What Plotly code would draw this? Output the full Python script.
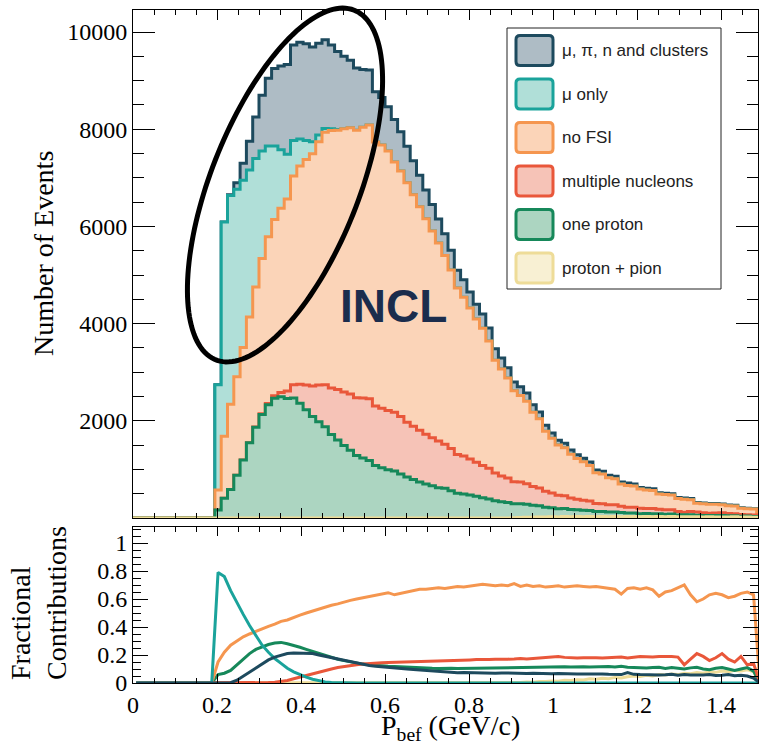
import numpy as np
import plotly.graph_objects as go

# ---------------- data ----------------
BIN_LO, BIN_HI, N_BINS = 0.0, 1.5, 100

SERIES_NAMES = ["μ, π, n and clusters", "μ only", "no FSI",
                "multiple nucleons", "one proton", "proton + pion"]

# total number of events per bin (top of the stack)
TOTAL = [
    0, 0, 0, 0, 0, 0, 0, 0, 0, 0,
    0, 0, 0, 2740, 6090, 6650, 6900, 7300, 7750, 8250,
    8700, 9050, 9250, 9300, 9330, 9730, 9790, 9760, 9690, 9770,
    9840, 9730, 9600, 9500, 9420, 9260, 9230, 9220, 8770, 8650,
    8460, 8200, 7950, 7650, 7350, 7050, 6750, 6450, 6150, 5850,
    5510, 5100, 4900, 4650, 4400, 4200, 3910, 3480, 3290, 3090,
    2800, 2700, 2570, 2330, 2180, 1910, 1750, 1600, 1540, 1400,
    1300, 1230, 1150, 990, 960, 880, 860, 740, 720, 700,
    630, 610, 600, 520, 510, 500, 420, 410, 400, 320,
    310, 300, 300, 290, 270, 260, 210, 200, 190, 0,
]

# fractional contributions per bin (lower panel)
FRAC_OTHER = [  # mu, pi, n and clusters
    0, 0, 0, 0, 0, 0, 0, 0, 0, 0,
    0, 0, 0, 0, 0, .002, .02, .05, .08, .11,
    .14, .165, .185, .20, .21, .215, .215, .215, .21, .20,
    .19, .18, .17, .16, .15, .14, .13, .125, .12, .115,
    .11, .107, .103, .10, .097, .094, .09, .086, .082, .078,
    .076, .074, .075, .073, .072, .074, .071, .07, .072, .07,
    .069, .07, .068, .069, .067, .068, .066, .067, .065, .066,
    .064, .065, .066, .063, .064, .062, .063, .06, .075, .062,
    .06, .058, .06, .057, .059, .062, .055, .06, .058, .055,
    .057, .06, .054, .056, .06, .052, .055, .05, .035, 0,
]
FRAC_MU = [
    0, 0, 0, 0, 0, 0, 0, 0, 0, 0,
    0, 0, 0, .79, .76, .66, .57, .49, .41, .34,
    .27, .22, .175, .14, .105, .08, .06, .042, .027, .015,
    .008, .004, .002, 0, 0, 0, 0, 0, 0, 0,
    0, 0, 0, 0, 0, 0, 0, 0, 0, 0,
    0, 0, 0, 0, 0, 0, 0, 0, 0, 0,
    0, 0, 0, 0, 0, 0, 0, 0, 0, 0,
    0, 0, 0, 0, 0, 0, 0, 0, 0, 0,
    0, 0, 0, 0, 0, 0, 0, 0, 0, 0,
    0, 0, 0, 0, 0, 0, 0, 0, 0, 0,
]
FRAC_NOFSI = [
    0, 0, 0, 0, 0, 0, 0, 0, 0, 0,
    0, 0, 0, .15, .22, .27, .30, .33, .35, .37,
    .39, .405, .42, .44, .45, .47, .485, .50, .515, .53,
    .54, .555, .565, .58, .59, .60, .61, .62, .63, .64,
    .645, .63, .64, .655, .66, .67, .67, .675, .68, .675,
    .685, .69, .685, .69, .70, .705, .70, .695, .70, .695,
    .71, .69, .70, .69, .695, .685, .69, .695, .685, .69,
    .695, .69, .685, .69, .685, .68, .67, .635, .675, .68,
    .67, .68, .665, .62, .65, .66, .68, .70, .63, .58,
    .60, .63, .64, .63, .61, .62, .64, .65, .63, 0,
]
FRAC_MULTI = [
    0, 0, 0, 0, 0, 0, 0, 0, 0, 0,
    0, 0, 0, 0, 0, 0, 0, 0, 0, .001,
    .002, .003, .006, .01, .018, .03, .042, .055, .068, .08,
    .09, .10, .11, .118, .125, .13, .135, .14, .142, .145,
    .147, .148, .15, .15, .152, .155, .155, .157, .16, .158,
    .162, .16, .163, .165, .167, .165, .168, .17, .168, .17,
    .172, .175, .172, .175, .178, .18, .185, .19, .183, .18,
    .178, .18, .182, .18, .178, .18, .182, .185, .178, .185,
    .19, .188, .185, .19, .192, .19, .185, .13, .17, .21,
    .19, .16, .18, .21, .17, .15, .19, .13, .14, 0,
]
FRAC_1P = [
    0, 0, 0, 0, 0, 0, 0, 0, 0, 0,
    0, 0, 0, .06, .07, .09, .13, .17, .21, .24,
    .26, .275, .285, .29, .28, .27, .255, .24, .225, .21,
    .195, .18, .17, .16, .15, .14, .135, .13, .125, .122,
    .12, .118, .115, .112, .11, .108, .106, .105, .104, .106,
    .105, .103, .104, .105, .106, .104, .105, .107, .106, .108,
    .11, .109, .11, .112, .111, .113, .115, .114, .116, .115,
    .117, .116, .115, .117, .116, .118, .115, .12, .112, .11,
    .105, .108, .11, .112, .104, .11, .105, .10, .108, .112,
    .10, .095, .105, .11, .10, .09, .10, .11, .085, 0,
]
FRAC_PPI = [
    0, 0, 0, 0, 0, 0, 0, 0, 0, 0,
    0, 0, 0, 0, 0, 0, 0, 0, 0, 0,
    0, 0, 0, 0, 0, 0, 0, 0, 0, 0,
    0, 0, 0, 0, 0, 0, 0, 0, 0, 0,
    0, 0, 0, 0, 0, 0, 0, 0, 0, 0,
    0, 0, 0, 0, 0, 0, 0, 0, 0, 0,
    .002, .004, .007, .006, .011, .01, .015, .013, .02, .018,
    .024, .022, .03, .027, .034, .031, .04, .036, .045, .05,
    .047, .055, .05, .06, .057, .065, .06, .07, .066, .075,
    .07, .08, .076, .085, .08, .09, .085, .095, .08, 0,
]

# ---------------- styling ----------------
LINE_COLORS = ["#1d4a5e", "#1aa39b", "#f5964f", "#e9573a", "#16885a", "#eedc98"]
FILL_COLORS = ["#aebcc5", "#b0dfd8", "#fbd4b8", "#f6c3b7", "#acd5c1", "#f8f0d3"]

W, H = 759, 747
PX_L, PX_R, PX_T, PX_B = 133, 758, 10, 683
TOP_Y0_PX, BOT_Y1_PX = 518, 527
XMAX = BIN_LO + (PX_R - PX_L) / 420.0
SERIF = "Liberation Serif"
SANS = "Liberation Sans"


def pp(px, py):
    return (px - PX_L) / (PX_R - PX_L), (PX_B - py) / (PX_B - PX_T)


edges = np.linspace(BIN_LO, BIN_HI, N_BINS + 1)
centers = 0.5 * (edges[:-1] + edges[1:])

total = np.array(TOTAL, float)
fr = [np.array(a, float) for a in (FRAC_OTHER, FRAC_MU, FRAC_NOFSI, FRAC_MULTI, FRAC_1P, FRAC_PPI)]
fsum = sum(fr)
safe = np.where(fsum > 0, fsum, 1.0)
comps = [total * f / safe for f in fr]          # counts per component
# stack bottom -> top: proton+pion, one proton, multiple nucleons, no FSI, mu only, others
order_bottom_up = [5, 4, 3, 2, 1, 0]
cum = {}
running = np.zeros(N_BINS)
for k in order_bottom_up:
    running = running + comps[k]
    cum[k] = running.copy()

fig = go.Figure()

xs_step = np.append(edges[:-1], edges[-1])
for k in [0, 1, 2, 3, 4, 5]:  # draw top of stack first
    ys = np.append(cum[k], cum[k][-1])
    fig.add_trace(go.Scatter(
        x=xs_step, y=ys, mode="lines", line=dict(color=LINE_COLORS[k], width=3, shape="hv"),
        fill="tozeroy", fillcolor=FILL_COLORS[k], xaxis="x", yaxis="y",
        showlegend=False, hoverinfo="skip"))

for k in [5, 4, 3, 2, 1, 0]:
    fig.add_trace(go.Scatter(
        x=centers, y=fr[k], mode="lines", line=dict(color=LINE_COLORS[k], width=3),
        xaxis="x2", yaxis="y2", showlegend=False, hoverinfo="skip"))

tickfont = dict(family=SERIF, size=24, color="black")
common_x = dict(range=[BIN_LO, XMAX], showgrid=False, zeroline=False, showline=True,
                linecolor="black", linewidth=1, mirror="allticks", ticks="inside",
                tickcolor="black", tick0=0, dtick=0.2)

top_dom = [pp(0, TOP_Y0_PX)[1], 1.0]
bot_dom = [0.0, pp(0, BOT_Y1_PX)[1]]
top_ymax = (TOP_Y0_PX - PX_T) / 0.0486

fig.update_layout(
    width=W, height=H,
    margin=dict(l=PX_L, r=W - PX_R, t=PX_T, b=H - PX_B),
    paper_bgcolor="white", plot_bgcolor="white",
    xaxis=dict(**common_x, domain=[0, 1], anchor="y", showticklabels=False, ticklen=10,
               minor=dict(dtick=0.05, tick0=0, ticks="inside", ticklen=5, tickcolor="black")),
    yaxis=dict(domain=top_dom, anchor="x", range=[0, top_ymax], showgrid=False, zeroline=False,
               showline=True, linecolor="black", linewidth=1, mirror="allticks",
               ticks="inside", ticklen=22, tickcolor="black", tick0=0, dtick=2000,
               tickformat="d", labelalias={"0": " "}, tickfont=tickfont,
               minor=dict(dtick=500, tick0=0, ticks="inside", ticklen=11, tickcolor="black")),
    xaxis2=dict(**common_x, domain=[0, 1], anchor="y2", ticklen=9, tickfont=tickfont,
                minor=dict(dtick=0.05, tick0=0, ticks="inside", ticklen=5, tickcolor="black")),
    yaxis2=dict(domain=bot_dom, anchor="x2", range=[0, (PX_B - BOT_Y1_PX) / 140.0],
                showgrid=False, zeroline=False, showline=True, linecolor="black", linewidth=1,
                mirror="allticks", ticks="inside", ticklen=15, tickcolor="black",
                tick0=0, dtick=0.2, tickfont=tickfont,
                minor=dict(dtick=0.05, tick0=0, ticks="inside", ticklen=8, tickcolor="black")),
)

shapes = []
annotations = []

# ellipse highlight
cx, cy, a, b, th = 285, 185, 188, 74, np.radians(21.6)
ux, uy = np.sin(th), -np.cos(th)
vx, vy = np.cos(th), np.sin(th)
pts = []
for t in np.linspace(0, 2 * np.pi, 160):
    px = cx + a * np.cos(t) * ux + b * np.sin(t) * vx
    py = cy + a * np.cos(t) * uy + b * np.sin(t) * vy
    X, Y = pp(px, py)
    pts.append(f"{X:.5f},{Y:.5f}")
shapes.append(dict(type="path", xref="paper", yref="paper", path="M " + " L ".join(pts) + " Z",
                   line=dict(color="black", width=5), layer="above"))

# legend box
x0, y0 = pp(507, 289)
x1, y1 = pp(721, 28)
shapes.append(dict(type="rect", xref="paper", yref="paper", x0=x0, y0=y0, x1=x1, y1=y1,
                   line=dict(color="#222222", width=1), fillcolor="white", layer="above"))


def rounded_rect(px0, py0, px1, py1, r):
    seq = [("M", px0 + r, py0), ("L", px1 - r, py0), ("Q", px1, py0, px1, py0 + r),
           ("L", px1, py1 - r), ("Q", px1, py1, px1 - r, py1), ("L", px0 + r, py1),
           ("Q", px0, py1, px0, py1 - r), ("L", px0, py0 + r), ("Q", px0, py0, px0 + r, py0)]
    out = []
    for item in seq:
        cmd, coords = item[0], item[1:]
        parts = []
        for i in range(0, len(coords), 2):
            X, Y = pp(coords[i], coords[i + 1])
            parts.append(f"{X:.5f},{Y:.5f}")
        out.append(cmd + " " + " ".join(parts))
    return " ".join(out) + " Z"


row_centers = [50.5, 94, 137.5, 181, 224.5, 268]
for k, yc in enumerate(row_centers):
    shapes.append(dict(type="path", xref="paper", yref="paper",
                       path=rounded_rect(516, yc - 15, 553, yc + 15, 4),
                       line=dict(color=LINE_COLORS[k], width=3), fillcolor=FILL_COLORS[k],
                       layer="above"))
    X, Y = pp(560, yc)
    annotations.append(dict(x=X, y=Y, xref="paper", yref="paper", text=SERIES_NAMES[k],
                            showarrow=False, xanchor="left", yanchor="middle",
                            font=dict(family=SANS, size=17, color="#222222")))

# INCL label
X, Y = pp(393, 306)
annotations.append(dict(x=X, y=Y, xref="paper", yref="paper", text="<b>INCL</b>", showarrow=False,
                        xanchor="center", yanchor="middle",
                        font=dict(family=SANS, size=46, color="#1b2d4d")))

# axis titles
X, Y = pp(43, 254)
annotations.append(dict(x=X, y=Y, xref="paper", yref="paper", text="Number of Events",
                        textangle=-90, showarrow=False, xanchor="center", yanchor="middle",
                        font=dict(family=SERIF, size=28, color="black")))
X, Y = pp(38, 603)
annotations.append(dict(x=X, y=Y, xref="paper", yref="paper", text="Fractional<br>Contributions",
                        textangle=-90, align="left", showarrow=False, xanchor="center",
                        yanchor="middle", font=dict(family=SERIF, size=28, color="black")))
X, Y = pp(450, 727)
annotations.append(dict(x=X, y=Y, xref="paper", yref="paper", text="P<sub>bef</sub> (GeV/c)",
                        showarrow=False, xanchor="center", yanchor="middle",
                        font=dict(family=SERIF, size=28, color="black")))

fig.update_layout(shapes=shapes, annotations=annotations)
fig.write_html("out.html", config={"displayModeBar": False},
               post_script="document.body.style.margin='0';document.body.style.overflow='hidden';")
